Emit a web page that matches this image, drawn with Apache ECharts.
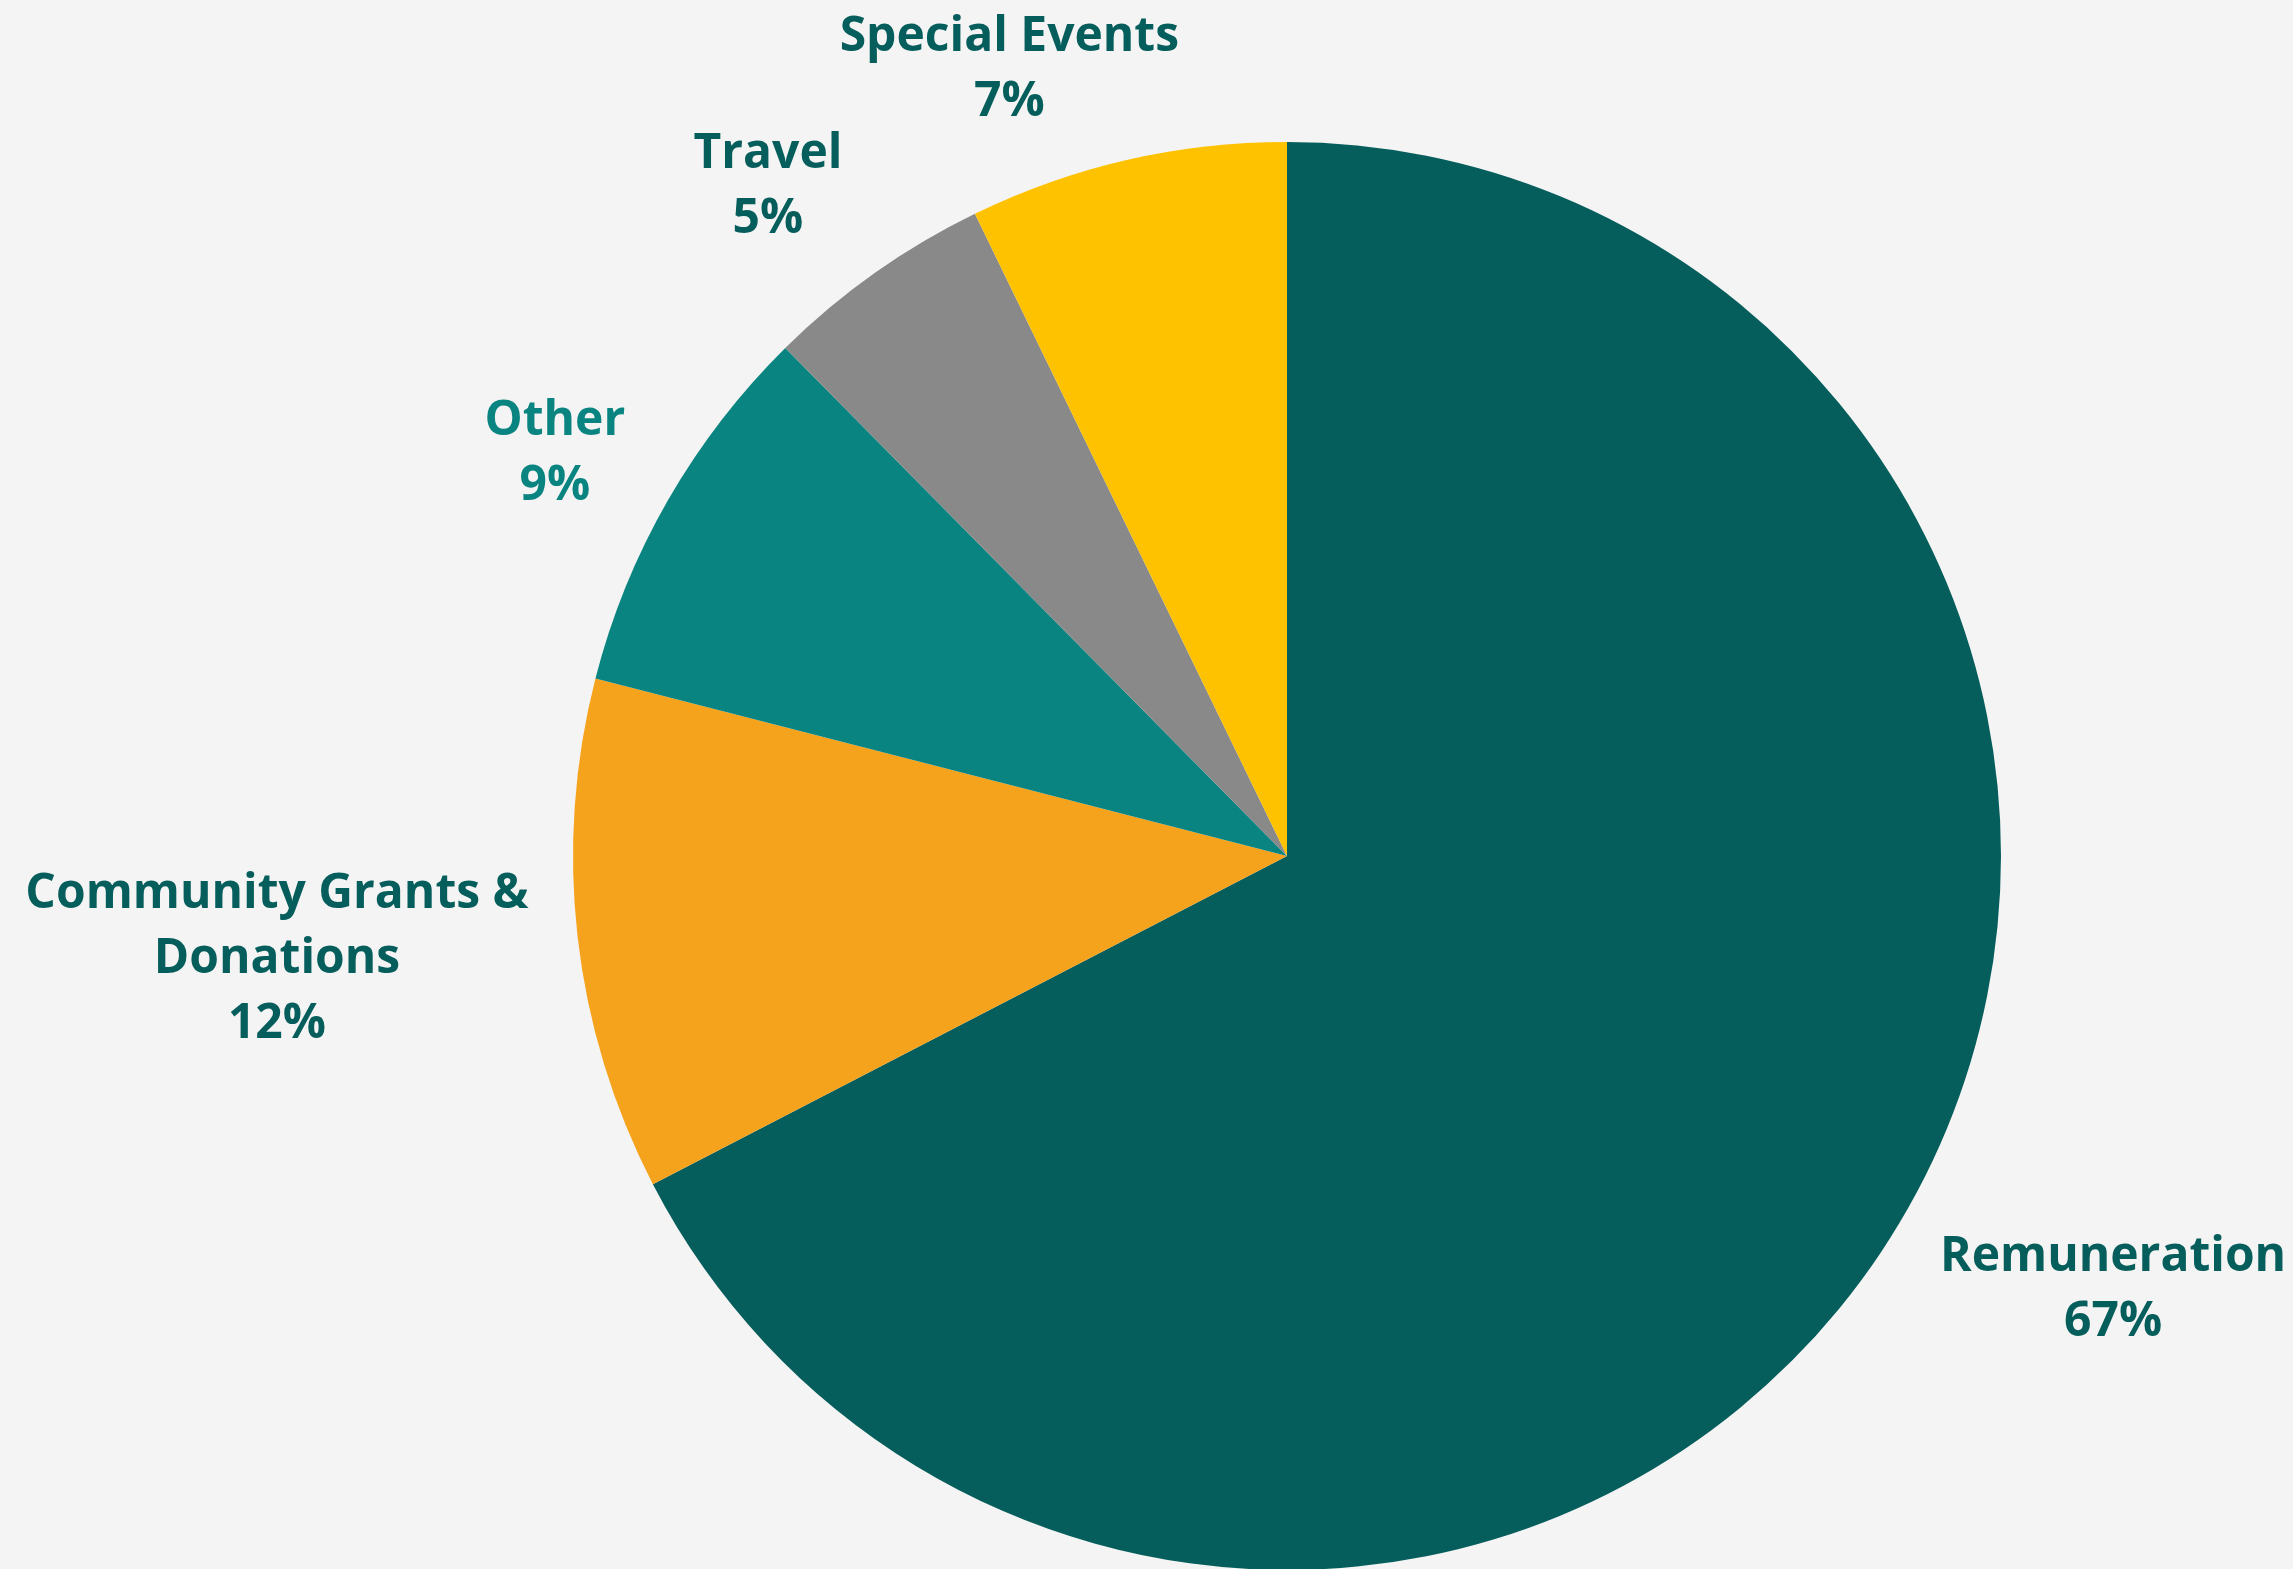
<!DOCTYPE html>
<html>
<head>
<meta charset="utf-8">
<script src="https://cdn.jsdelivr.net/npm/echarts@6/dist/echarts.min.js"></script>
<style>
  html, body { margin: 0; padding: 0; background: #f4f4f4; }
  #chart { width: 2293px; height: 1569px; }
</style>
</head>
<body>
<div id="chart"></div>
<script>
// ---- data ----
const categories = ['Remuneration', 'Community Grants & Donations', 'Other', 'Travel', 'Special Events'];
const values = [67.4, 11.6, 8.6, 5.2, 7.2];
const colors = ['#065e5c', '#f5a31d', '#0a8480', '#898989', '#fec200'];
const labelColors = ['#065e5c', '#065e5c', '#0a8480', '#065e5c', '#065e5c'];

// ---- layout ----
const CX = 1287, CY = 856, R = 714, GAP = 60;
const labelNudge = [[17, -2], [9, 5], [0, 16], [-29, 16], [-66, 31]];

const total = values.reduce((a, b) => a + b, 0);
const midAngles = [];
let acc = 0;
values.forEach(v => { midAngles.push((acc + v / 2) / total * 2 * Math.PI); acc += v; });

function wrapName(n) { return n.replace('Grants & ', 'Grants &\n'); }

const chart = echarts.init(document.getElementById('chart'), null, { renderer: 'canvas' });
chart.setOption({
  backgroundColor: '#f4f4f4',
  animation: false,
  series: [{
    type: 'pie',
    center: [CX, CY],
    radius: [0, R],
    startAngle: 90,
    clockwise: true,
    avoidLabelOverlap: false,
    percentPrecision: 0,
    silent: true,
    itemStyle: { borderWidth: 0 },
    labelLine: { show: false },
    label: {
      show: true,
      position: 'outside',
      formatter: p => wrapName(p.name) + '\n' + p.percent + '%',
      fontFamily: 'Open Sans',
      fontWeight: 'bold',
      fontSize: 48,
      lineHeight: 65,
      align: 'center'
    },
    labelLayout: function (params) {
      const i = params.dataIndex;
      const a = midAngles[i];
      const dx = Math.sin(a), dy = -Math.cos(a);
      const w = params.labelRect.width, h = params.labelRect.height;
      return {
        x: CX + dx * (R + GAP) + dx * w / 2 + labelNudge[i][0],
        y: CY + dy * (R + GAP) + dy * h / 2 + labelNudge[i][1],
        align: 'center',
        verticalAlign: 'middle'
      };
    },
    data: categories.map((c, i) => ({
      name: c,
      value: values[i],
      itemStyle: { color: colors[i] },
      label: { color: labelColors[i] }
    }))
  }]
});
</script>
</body>
</html>
